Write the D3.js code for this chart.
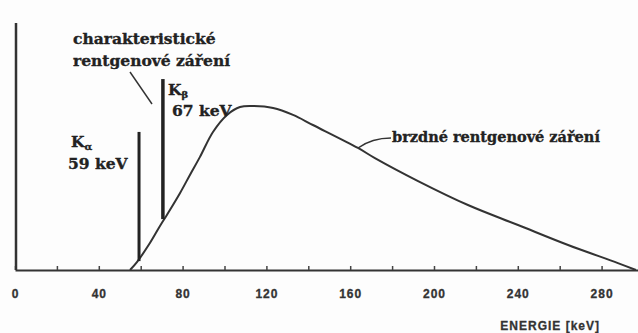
<!DOCTYPE html>
<html>
<head>
<meta charset="utf-8">
<script src="https://cdn.jsdelivr.net/npm/d3@7"></script>
<style>
  body { margin: 0; background: #fdfdfd; }
  svg { display: block; }
  .tick text { font-family: "Liberation Sans", Arial, sans-serif; font-weight: bold; font-size: 12px; letter-spacing: 1px; fill: #333; stroke: #333; stroke-width: 0.3px; }
  .note { font-family: "DejaVu Serif", serif; font-weight: bold; font-size: 15.5px; fill: #222; stroke: #222; stroke-width: 0.35px; }
</style>
</head>
<body>
<div class="container"></div>
<script>
// spektrum rentgenky, hodnoty
var energy = [54.9, 58.2, 64.4, 69.2, 72.5, 78.8, 83.5, 88.3, 94.5, 101.2, 107.4, 113.6,
  123.2, 132.7, 142.2, 163.7, 171.8, 192.4, 216.2, 240.1, 264.0, 287.8, 296.4];
var intensity = [0, 3.2, 10.9, 17.8, 22.3, 31.2, 38.5, 45.8, 55.9, 62.8, 66.0, 66.4,
  65.6, 62.8, 58.7, 49.4, 45.3, 36.0, 26.3, 18.2, 10.1, 2.8, 0];

// charakteristické čáry K alfa / K beta
var peakEnergy = [59.2, 70.6];
var peakBase = [3.6, 20.6];
var peakTop = [55.9, 77.3];

var minorTicks = [20, 60, 100, 140, 180, 220, 260];
var tickLabels = [0, 40, 80, 120, 160, 200, 240, 280];

var width = 638,
  height = 333;

var x = d3.scaleLinear().domain([0, 298]).range([15, 639.3]);
var y = d3.scaleLinear().domain([0, 100]).range([270, 23]);

var svg = d3
  .select('.container')
  .append('svg')
  .attr('width', width)
  .attr('height', height);

// osa x
var xAxis = d3
  .axisBottom(x)
  .tickValues(tickLabels.concat(minorTicks))
  .tickSize(-4)
  .tickSizeOuter(0)
  .tickPadding(19)
  .tickFormat(function (d) {
    return tickLabels.indexOf(d) >= 0 ? d : '';
  });

var gx = svg
  .append('g')
  .attr('transform', 'translate(0,' + y(0) + ')')
  .call(xAxis);

gx.select('.domain').attr('stroke', '#333').attr('stroke-width', 2);
gx.selectAll('.tick line').attr('stroke', '#444').attr('stroke-width', 1.5);

// osa y - jen svislá čára
svg
  .append('line')
  .attr('x1', x(0) + 1)
  .attr('x2', x(0) + 1)
  .attr('y1', y(100))
  .attr('y2', y(0))
  .attr('stroke', '#333')
  .attr('stroke-width', 2.5);

svg
  .append('text')
  .attr('x', 600)
  .attr('y', 330)
  .attr('text-anchor', 'end')
  .style('font-family', '"Liberation Sans", Arial, sans-serif')
  .style('font-weight', 'bold')
  .style('font-size', '12px')
  .style('letter-spacing', '1px')
  .style('fill', '#333')
  .style('stroke', '#333')
  .style('stroke-width', '0.3px')
  .text('ENERGIE [keV]');

// brzdné záření
var line = d3
  .line()
  .x(function (d, i) {
    return x(energy[i]);
  })
  .y(function (d) {
    return y(d);
  })
  .curve(d3.curveCatmullRom.alpha(0.5));

svg
  .append('path')
  .datum(intensity)
  .attr('d', line)
  .attr('fill', 'none')
  .attr('stroke', '#333')
  .attr('stroke-width', 2);

// čáry K
svg
  .selectAll('line.peak')
  .data(peakEnergy)
  .enter()
  .append('line')
  .attr('class', 'peak')
  .attr('x1', function (d) {
    return x(d);
  })
  .attr('x2', function (d) {
    return x(d);
  })
  .attr('y1', function (d, i) {
    return y(peakBase[i]);
  })
  .attr('y2', function (d, i) {
    return y(peakTop[i]);
  })
  .attr('stroke', '#222')
  .attr('stroke-width', function (d, i) {
    return i == 0 ? 3 : 3.5;
  });

// popisky
svg.append('text').attr('class', 'note').attr('x', 73).attr('y', 44).text('charakteristické');
svg.append('text').attr('class', 'note').attr('x', 73).attr('y', 66).text('rentgenové záření');

svg
  .append('line')
  .attr('x1', 130)
  .attr('y1', 72)
  .attr('x2', 152)
  .attr('y2', 104)
  .attr('stroke', '#333')
  .attr('stroke-width', 1.5);

var kb = svg.append('text').attr('class', 'note').attr('x', 168).attr('y', 95);
kb.append('tspan').text('K');
kb.append('tspan').attr('dy', 3).style('font-size', '10px').text('β');
svg.append('text').attr('class', 'note').attr('x', 172).attr('y', 116).text('67 keV');

var ka = svg.append('text').attr('class', 'note').attr('x', 71).attr('y', 147);
ka.append('tspan').text('K');
ka.append('tspan').attr('dy', 3).style('font-size', '10px').text('α');
svg.append('text').attr('class', 'note').attr('x', 68).attr('y', 169).text('59 keV');

svg
  .append('path')
  .attr('d', 'M358,148 Q372,138 391,138')
  .attr('fill', 'none')
  .attr('stroke', '#333')
  .attr('stroke-width', 1.5);

svg
  .append('text')
  .attr('class', 'note')
  .style('font-size', '14.5px')
  .attr('x', 392)
  .attr('y', 142)
  .text('brzdné rentgenové záření');
</script>
</body>
</html>
